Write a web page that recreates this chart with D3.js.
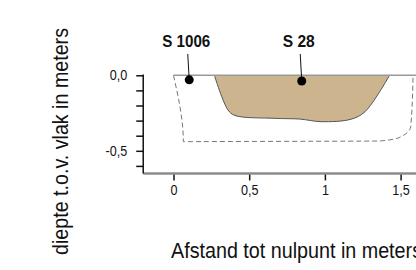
<!DOCTYPE html>
<html>
<head>
<meta charset="utf-8">
<script src="https://cdn.jsdelivr.net/npm/d3@7"></script>
<style>
  body { margin: 0; background: #fff; }
  svg { display: block; }
  text { font-family: "Liberation Sans Narrow", "Arial Narrow", "Liberation Sans", Arial, sans-serif; }
</style>
</head>
<body>
<div id="paper"></div>
<script>
// profile data (metres)
const xTicks = [0, 0.5, 1, 1.5];
const yTicks = [0, -0.1, -0.2, -0.3, -0.4, -0.5, -0.6];
const yLabels = {"0": "0,0", "-0.5": "-0,5"};
const pitX = [0.27, 0.36, 0.406, 0.67, 0.836, 0.974, 1.172, 1.265, 1.427];
const pitY = [0, -0.23, -0.266, -0.285, -0.29, -0.307, -0.291, -0.241, 0];
const trenchX = [0, 0.065, 1.364, 1.496, 1.567, 1.582];
const trenchY = [0, -0.44, -0.435, -0.41, -0.34, -0.01];
const finds = ["S 1006", "S 28"];
const findX = [0.104, 0.847];
const findY = [-0.03, -0.038];

const width = 416, height = 270;

const x = d3.scaleLinear().domain([0, 1.5]).range([173.5, 400.6]);
const y = d3.scaleLinear().domain([0, -0.5]).range([75.3, 150.8]);

const svg = d3.select("#paper").append("svg")
	.attr("width", width)
	.attr("height", height);

// x axis
const xAxis = svg.append("g")
	.attr("transform", `translate(0,${y(-0.65)})`)
	.call(d3.axisBottom(x).tickValues(xTicks).tickSize(7).tickPadding(5)
		.tickFormat(d => String(d).replace(".", ",")));
xAxis.select(".domain").remove();
xAxis.append("line")
	.attr("x1", x(-0.2)).attr("x2", width)
	.attr("stroke", "#8c8c8c").attr("stroke-width", 2.5);
xAxis.selectAll(".tick line").attr("stroke", "#111").attr("stroke-width", 1.5);
xAxis.selectAll("text").attr("font-size", 14).attr("fill", "#111")
	.attr("transform", "scale(0.9,1)")
	.attr("x", 0);
xAxis.selectAll(".tick text").each(function() {
	// keep labels centred under the tick after narrowing
	d3.select(this).attr("transform", "scale(0.9,1)");
});

// y axis
const yAxis = svg.append("g")
	.attr("transform", `translate(${x(-0.2)},0)`)
	.call(d3.axisLeft(y).tickValues(yTicks).tickSize(7).tickPadding(7)
		.tickFormat(d => yLabels[String(d)] || ""));
yAxis.select(".domain").remove();
yAxis.append("line")
	.attr("y1", y(0) - 0.7).attr("y2", y(-0.65))
	.attr("stroke", "#111").attr("stroke-width", 1.5);
yAxis.selectAll(".tick line").attr("stroke", "#111").attr("stroke-width", 1.5);
yAxis.selectAll("text").attr("font-size", 14).attr("fill", "#111")
	.attr("transform", "scale(0.9,1)")
	.attr("x", -16 / 0.9);

// trench outline
svg.append("path")
	.datum(d3.zip(trenchX, trenchY))
	.attr("fill", "none")
	.attr("stroke", "#777")
	.attr("stroke-width", 1)
	.attr("stroke-dasharray", "5,3")
	.attr("d", d3.line().x(d => x(d[0])).y(d => y(d[1])).curve(d3.curveMonotoneY));

// pit
svg.append("path")
	.datum(d3.zip(pitX, pitY))
	.attr("fill", "#cbb48e")
	.attr("stroke", "#555")
	.attr("stroke-width", 1)
	.attr("d", d3.line().x(d => x(d[0])).y(d => y(d[1])).curve(d3.curveCatmullRom.alpha(0.5)));

// surface
svg.append("line")
	.attr("x1", x(0)).attr("x2", width)
	.attr("y1", y(0)).attr("y2", y(0))
	.attr("stroke", "#999").attr("stroke-width", 1.5);

// finds
const f = svg.append("g").selectAll("g")
	.data(finds)
	.join("g");
f.append("line")
	.attr("x1", (d, i) => x(findX[i]) - 1.5).attr("y1", 54)
	.attr("x2", (d, i) => x(findX[i])).attr("y2", (d, i) => y(findY[i]))
	.attr("stroke", "#111").attr("stroke-width", 1);
f.append("circle")
	.attr("cx", (d, i) => x(findX[i]))
	.attr("cy", (d, i) => y(findY[i]))
	.attr("r", 4.5)
	.attr("fill", "#000");
f.append("text")
	.attr("x", (d, i) => x(findX[i]) - 3)
	.attr("y", 47)
	.attr("text-anchor", "middle")
	.attr("font-size", 16)
	.attr("font-weight", "bold")
	.attr("fill", "#111")
	.attr("textLength", d => d.length * 8)
	.attr("lengthAdjust", "spacingAndGlyphs")
	.text(d => d);

// axis titles
svg.append("text")
	.attr("transform", `translate(68,141.5) rotate(-90)`)
	.attr("text-anchor", "middle")
	.attr("font-size", 22)
	.attr("fill", "#111")
	.attr("textLength", 227)
	.attr("lengthAdjust", "spacingAndGlyphs")
	.text("diepte t.o.v. vlak in meters");

svg.append("text")
	.attr("x", 171)
	.attr("y", 258)
	.attr("font-size", 22)
	.attr("fill", "#111")
	.attr("textLength", 251)
	.attr("lengthAdjust", "spacingAndGlyphs")
	.text("Afstand tot nulpunt in meters");
</script>
</body>
</html>
